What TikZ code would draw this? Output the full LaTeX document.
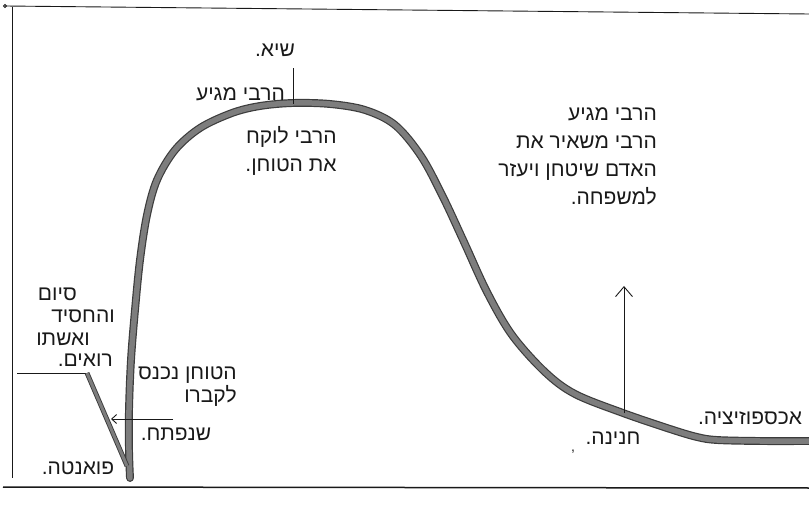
\documentclass[tikz,border=0pt]{standalone}
\usepackage{fontspec}
\usepackage{tikz}
\usetikzlibrary{arrows.meta}
\newfontfamily\hebfont[Script=Hebrew]{Liberation Sans}
\TeXXeTstate=1
\definecolor{inkblack}{RGB}{25, 25, 25}
\definecolor{bandgray}{RGB}{125, 125, 125}
\newcommand{\heb}[1]{\beginR #1\endR}

\begin{document}
\begin{tikzpicture}[x=1pt, y=-1pt,
        every node/.style={font=\hebfont\fontsize{21}{28}\selectfont, text=inkblack, inner sep=0pt},
        lbl/.style={align=right},
        frame/.style={line width=0.9pt, inkblack},
        band/.style={line width=1.2pt, draw=inkblack!85, double=bandgray, double distance=5.5pt,
                     line cap=round, line join=round},
        thinband/.style={line width=0.9pt, draw=inkblack!85, double=bandgray, double distance=3pt,
                         line join=round},
        thin/.style={line width=0.9pt, inkblack},
        arr/.style={thin, -{Straight Barb[length=10pt, width=17pt]}},
        tip/.style={thin, -{Straight Barb[length=5pt, width=9pt]}}
      ]
        \useasboundingbox (0,0) rectangle (809,505);

        \draw[frame] (5,6) -- (809,14);
        \draw[frame] (5,6) circle (1.5);
        \draw[frame] (12,7) -- (12,478);
        \draw[frame, line width=1.5pt] (3,487) -- (809,488);

        \draw[band] plot[smooth, tension=0.55] coordinates {
            (809,441) (760,441) (717,440) (697,437) (670,429) (623,413) (575,394)
            (545,372) (512,335) (487,292) (464,242) (443,197) (421,156) (395,125)
            (365,110) (330,104) (293,103) (260,106) (232,113) (200,128) (175,150)
            (157,180) (147,215) (140,260) (135,310) (131,360) (129,410) (129,450) (130,478)};

        \coordinate (peak)    at (293,104);
        \coordinate (peaktop) at (293,68);
        \coordinate (turn)    at (624,413);
        \coordinate (turnup)  at (624,286);
        \coordinate (flatA)   at (17,373);
        \coordinate (flatB)   at (87,373);
        \coordinate (pit)     at (127,466);
        \coordinate (grave)   at (173,419);
        \coordinate (graveat) at (111,419);

        \draw[thin] (peak) -- (peaktop);
        \draw[arr] (turn) -- (turnup);
        \draw[thin] (flatA) -- (flatB);
        \draw[thinband] (flatB) -- (pit);
        \draw[tip] (grave) -- (graveat);

        \node (A) at (275,50) {\heb{שיא.}};
        \node[anchor=east] (B) at (285,94) {\heb{הרבי מגיע}};
        \node[lbl, anchor=north] (C) at (291,126) {\heb{הרבי לוקח}\\\heb{את הטוחן.}};
        \node[lbl, anchor=north east] (D) at (657,108)
          {\heb{הרבי מגיע}\\\heb{הרבי משאיר את}\\\heb{האדם שיטחן ויעזר}\\\heb{למשפחה.}};
        \node[anchor=east] (E1) at (77,294) {\heb{סיום}};
        \node[anchor=east] (E2) at (115,316) {\heb{והחסיד}};
        \node[anchor=east] (E3) at (90,339) {\heb{ואשתו}};
        \node[anchor=east] (E4) at (113,360) {\heb{רואים.}};
        \node[lbl, anchor=north east] (F) at (237,367) {\heb{הטוחן נכנס}\\[-5pt]\heb{לקברו}};
        \node (G) at (176,434) {\heb{שנפתח.}};
        \node (H) at (78,468) {\heb{פואנטה.}};
        \node (I) at (613,438) {\heb{חנינה.}};
        \node (J) at (750,418) {\heb{אכספוזיציה.}};
        \node[font=\hebfont\fontsize{14}{14}\selectfont] (K) at (573,452) {,};
      \end{tikzpicture}
\end{document}
